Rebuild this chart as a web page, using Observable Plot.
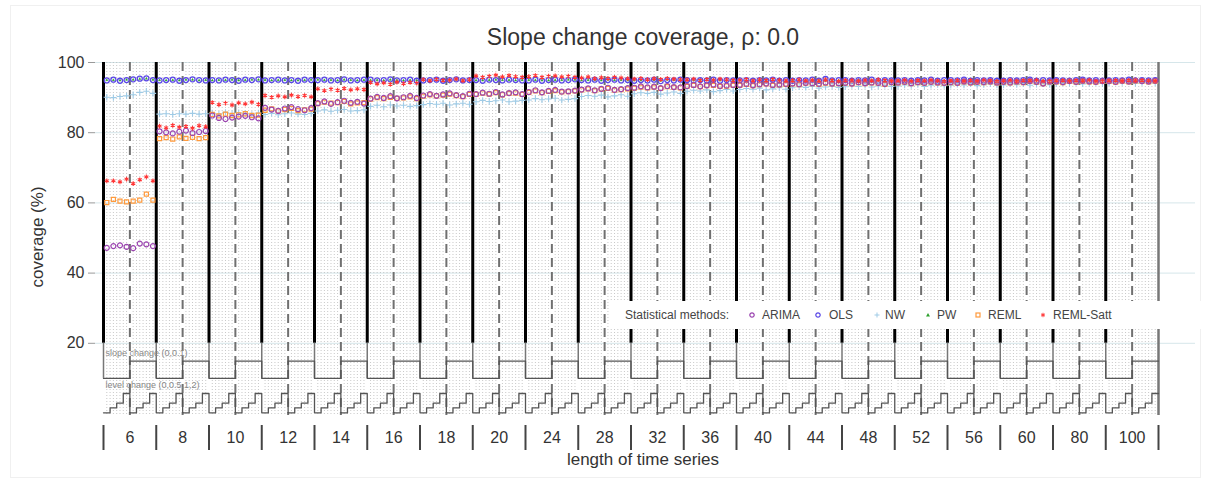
<!DOCTYPE html>
<html>
<head>
<meta charset="utf-8">
<script src="https://cdn.jsdelivr.net/npm/d3@7"></script>
<script src="https://cdn.jsdelivr.net/npm/@observablehq/plot@0.6"></script>
<style>
  html, body { margin: 0; padding: 0; background: #fff; }
  #wrap { position: relative; width: 1208px; height: 481px; font-family: "Liberation Sans", Arial, sans-serif; color: #333; overflow: hidden; }
  #border { position: absolute; left: 10px; top: 5px; width: 1189px; height: 471px; border: 1px solid #f0f0f0; }
  #chart { position: absolute; left: 0; top: 0; }
  #title { position: absolute; left: 643px; top: 24px; transform: translateX(-50%); font-size: 23px; color: #333; white-space: nowrap; }
  #xlab { position: absolute; left: 643px; top: 450px; transform: translateX(-50%); font-size: 17px; white-space: nowrap; }
  #ylab { position: absolute; left: 38px; top: 237px; transform: translate(-50%, -50%) rotate(-90deg); font-size: 17px; white-space: nowrap; }
  #legend { position: absolute; left: 610px; top: 301px; width: 592px; height: 28px; background: #fff; font-size: 12px; color: #444; }
  #legend span { position: absolute; top: 7px; white-space: nowrap; }
  #legend svg { position: absolute; top: 10px; }
</style>
</head>
<body>
<div id="wrap">
  <div id="border"></div>
  <div id="chart"></div>
  <div id="title"></div>
  <div id="ylab">coverage (%)</div>
  <div id="xlab">length of time series</div>
  <div id="legend"></div>
</div>
<script>
// ---------- data ----------
const lengths = [6, 8, 10, 12, 14, 16, 18, 20, 24, 28, 32, 36, 40, 44, 48, 52, 56, 60, 80, 100];
const slopeChanges = [0, 0.1];
const levelChanges = [0, 0.5, 1, 2];
const methods = ["ARIMA", "OLS", "NW", "PW", "REML", "REML-Satt"];
const yTicks = [20, 40, 60, 80, 100];

const arima = [
  47.2, 47.7, 47.9, 47.5, 47.1, 48.4, 48.2, 47.7,
  80.4, 80.1, 79.8, 80.3, 80.6, 79.9, 80.2, 80.5,
  84.9, 84.2, 83.9, 84.3, 84.6, 84.8, 84.4, 84.1,
  87.1, 86.6, 86.2, 86.9, 87.3, 86.7, 86.4, 87.0,
  88.4, 88.9, 88.2, 88.7, 89.1, 88.5, 88.8, 88.3,
  89.7, 90.2, 89.9, 90.4, 89.8, 90.1, 90.5, 89.9,
  90.6, 91.0, 90.5, 90.9, 91.2, 90.7, 90.4, 91.1,
  91.0, 91.4, 91.1, 91.6, 90.9, 91.3, 91.5, 91.0,
  91.6, 92.1, 91.5, 91.9, 92.2, 91.7, 91.8, 92.0,
  92.3, 92.6, 92.1, 92.5, 92.8, 92.2, 92.4, 92.7,
  92.8, 93.2, 92.9, 93.1, 92.7, 93.3, 93.0, 92.9,
  93.3, 93.6, 93.2, 93.5, 93.7, 93.3, 93.4, 93.6,
  93.6, 93.9, 93.5, 93.8, 94.0, 93.6, 93.7, 93.9,
  94.0, 93.8, 94.2, 94.1, 93.9, 94.3, 94.0, 94.1,
  94.2, 94.0, 94.4, 94.1, 94.3, 94.2, 93.9, 94.4,
  94.3, 94.5, 94.1, 94.4, 94.2, 94.5, 94.3, 94.2,
  94.4, 94.2, 94.6, 94.3, 94.5, 94.4, 94.6, 94.3,
  94.5, 94.3, 94.6, 94.4, 94.7, 94.5, 94.0, 94.6,
  94.6, 94.4, 94.7, 94.5, 94.8, 94.6, 94.5, 94.7,
  94.7, 94.5, 94.8, 94.6, 94.9, 94.7, 94.6, 94.8
];
const ols = [
  94.9, 95.1, 94.8, 95.0, 95.2, 95.4, 95.5, 95.0,
  94.9, 95.0, 95.1, 94.8, 95.0, 95.2, 95.0, 94.9,
  95.0, 94.9, 95.1, 95.0, 94.8, 95.1, 95.0, 95.2,
  94.9, 95.0, 95.1, 94.9, 95.0, 94.8, 95.1, 95.0,
  95.0, 95.1, 94.9, 95.0, 95.2, 94.9, 95.0, 95.1,
  95.1, 94.9, 95.0, 95.2, 94.9, 95.0, 95.1, 94.8,
  94.9, 95.0, 95.1, 94.8, 95.0, 95.2, 94.9, 95.0,
  95.0, 94.8, 95.1, 95.0, 94.9, 95.1, 95.0, 94.9,
  94.9, 95.1, 94.8, 95.0, 95.1, 94.9, 95.0, 95.2,
  95.0, 94.9, 95.1, 94.8, 95.0, 95.1, 94.9, 95.0,
  94.8, 95.0, 94.9, 95.1, 94.7, 95.0, 94.9, 95.1,
  95.0, 94.8, 95.0, 94.9, 95.1, 94.8, 95.0, 94.9,
  94.9, 95.0, 94.8, 95.0, 94.9, 95.1, 94.8, 95.0,
  94.8, 95.0, 94.9, 95.1, 94.8, 95.3, 94.9, 95.0,
  95.0, 94.8, 95.0, 94.9, 95.1, 94.8, 95.0, 94.9,
  94.9, 95.0, 94.8, 95.0, 94.9, 95.1, 94.8, 95.0,
  95.0, 94.9, 95.1, 94.8, 95.0, 94.9, 95.0, 94.8,
  94.8, 95.0, 94.9, 95.0, 95.1, 94.8, 95.0, 94.9,
  95.0, 94.9, 94.8, 95.0, 95.1, 94.9, 95.0, 94.8,
  94.9, 95.0, 94.9, 95.1, 94.8, 95.0, 94.9, 95.0
];
const nw = [
  90.1, 90.0, 90.3, 90.5, 90.8, 91.5, 91.8, 91.2,
  85.3, 85.4, 85.2, 85.4, 85.3, 85.5, 85.3, 85.4,
  85.6, 85.3, 85.8, 85.4, 85.7, 85.5, 85.2, 85.6,
  85.2, 85.5, 85.1, 85.4, 85.6, 85.3, 85.2, 85.5,
  86.2, 86.5, 86.1, 86.4, 86.6, 86.2, 86.3, 86.5,
  87.5, 87.8, 87.4, 87.9, 87.6, 87.8, 87.5, 87.7,
  88.0, 88.3, 88.1, 88.4, 87.9, 88.2, 88.4, 88.1,
  88.8, 89.2, 88.9, 89.1, 89.3, 88.8, 89.0, 89.2,
  89.3, 89.7, 89.4, 89.6, 89.8, 89.3, 89.5, 89.7,
  90.3, 90.6, 90.4, 90.7, 90.2, 90.5, 90.8, 90.4,
  91.1, 91.4, 91.2, 91.5, 91.0, 91.3, 91.6, 91.2,
  91.8, 92.1, 91.9, 92.2, 91.7, 92.0, 92.3, 91.9,
  92.3, 92.6, 92.4, 92.7, 92.2, 92.5, 92.8, 92.4,
  92.8, 93.1, 92.9, 93.2, 92.7, 93.0, 93.2, 92.9,
  93.1, 93.4, 93.2, 93.5, 93.0, 93.3, 93.5, 93.2,
  93.3, 93.6, 93.4, 93.7, 93.2, 93.5, 93.7, 93.4,
  93.5, 93.8, 93.6, 93.9, 93.4, 93.7, 93.9, 93.6,
  93.6, 93.9, 93.7, 94.0, 93.5, 93.8, 94.0, 93.7,
  94.0, 94.2, 94.1, 94.3, 93.9, 94.1, 94.3, 94.0,
  94.2, 94.4, 94.3, 94.5, 94.1, 94.3, 94.5, 94.2
];
const pw = [
  95.0, 95.0, 94.9, 95.1, 95.1, 95.3, 95.4, 95.1,
  95.0, 94.9, 95.0, 94.9, 95.1, 95.1, 94.9, 95.0,
  94.9, 95.0, 95.0, 95.1, 94.9, 95.0, 95.1, 95.1,
  95.0, 94.9, 95.0, 95.0, 94.9, 94.9, 95.0, 95.1,
  95.1, 95.0, 95.0, 94.9, 95.1, 95.0, 94.9, 95.0,
  95.0, 95.0, 94.9, 95.1, 95.0, 94.9, 95.0, 94.9,
  95.0, 94.9, 95.0, 94.9, 95.1, 95.1, 95.0, 94.9,
  94.9, 94.9, 95.0, 95.1, 95.0, 95.0, 94.9, 95.0,
  95.0, 95.0, 94.9, 94.9, 95.0, 95.0, 95.1, 95.1,
  94.9, 95.0, 95.0, 94.9, 95.1, 95.0, 95.0, 94.9,
  94.9, 94.9, 95.0, 95.0, 94.8, 95.1, 95.0, 95.0,
  94.9, 94.9, 95.1, 95.0, 95.0, 94.9, 94.9, 95.0,
  95.0, 94.9, 94.9, 95.1, 95.0, 95.0, 94.9, 94.9,
  94.9, 94.9, 95.0, 95.0, 94.9, 95.2, 95.0, 94.9,
  94.9, 94.9, 95.1, 95.0, 95.0, 94.9, 94.9, 95.0,
  95.0, 94.9, 94.9, 95.1, 95.0, 95.0, 94.9, 94.9,
  94.9, 95.0, 95.0, 94.9, 94.9, 95.0, 94.9, 94.9,
  94.9, 94.9, 95.0, 94.9, 95.0, 94.9, 94.9, 95.0,
  94.9, 95.0, 94.9, 94.9, 95.0, 95.0, 94.9, 94.9,
  95.0, 94.9, 95.0, 95.0, 94.9, 94.9, 95.0, 94.9
];
const reml = [
  60.1, 61.0, 60.5, 60.3, 60.5, 60.8, 62.5, 60.8,
  78.3, 78.6, 78.2, 78.8, 78.4, 78.7, 78.3, 78.6,
  85.2, 84.8, 85.3, 84.9, 85.1, 85.4, 84.9, 85.0,
  86.4, 86.8, 86.2, 86.6, 86.9, 86.3, 86.5, 86.7,
  88.3, 88.7, 88.4, 88.6, 88.9, 88.2, 88.5, 88.6,
  89.6, 90.0, 89.7, 90.1, 89.8, 89.9, 90.2, 89.7,
  90.4, 90.8, 90.5, 90.7, 91.0, 90.6, 90.3, 90.9,
  90.9, 91.3, 91.0, 91.4, 90.8, 91.2, 91.3, 90.9,
  91.5, 91.9, 91.4, 91.8, 92.0, 91.6, 91.7, 91.9,
  92.2, 92.5, 92.0, 92.4, 92.6, 92.1, 92.3, 92.5,
  92.7, 93.0, 92.8, 93.0, 92.6, 93.1, 92.9, 92.8,
  93.2, 93.5, 93.1, 93.4, 93.5, 93.2, 93.3, 93.5,
  93.5, 93.8, 93.4, 93.7, 93.9, 93.5, 93.6, 93.8,
  93.9, 93.7, 94.1, 94.0, 93.8, 94.1, 93.9, 94.0,
  94.1, 93.9, 94.3, 94.0, 94.2, 94.1, 93.8, 94.3,
  94.2, 94.4, 94.0, 94.3, 94.1, 94.4, 94.2, 94.1,
  94.3, 94.1, 94.5, 94.2, 94.4, 94.3, 94.5, 94.2,
  94.4, 94.2, 94.5, 94.3, 94.6, 94.4, 94.0, 94.5,
  94.5, 94.3, 94.6, 94.4, 94.7, 94.5, 94.4, 94.6,
  94.6, 94.4, 94.7, 94.5, 94.8, 94.6, 94.5, 94.7
];
const remlSatt = [
  66.3, 66.3, 66.0, 66.8, 65.5, 66.6, 67.4, 66.3,
  81.9, 81.4, 82.1, 81.6, 81.8, 81.3, 82.0, 81.7,
  88.6, 88.0, 88.4, 87.9, 88.5, 88.2, 88.7, 88.1,
  90.6, 90.1, 90.5, 90.2, 90.7, 90.3, 90.6, 90.2,
  92.5, 92.0, 92.4, 92.1, 92.6, 92.2, 92.5, 92.3,
  94.3, 93.9, 94.2, 93.8, 94.4, 94.0, 94.3, 94.1,
  95.1, 94.8, 95.2, 94.9, 95.0, 95.3, 94.8, 95.1,
  96.2, 95.8, 96.1, 96.4, 95.9, 96.3, 96.0, 95.8,
  96.0, 96.3, 95.8, 96.1, 96.2, 95.9, 96.1, 95.8,
  95.6, 95.9, 95.4, 95.7, 95.5, 95.8, 95.6, 95.4,
  95.3, 95.5, 95.1, 95.4, 95.2, 95.5, 95.3, 95.1,
  95.1, 95.3, 94.9, 95.2, 95.0, 95.3, 95.1, 94.9,
  95.0, 95.2, 94.8, 95.1, 94.9, 95.2, 95.0, 94.8,
  94.9, 95.1, 94.8, 95.0, 94.8, 95.1, 94.9, 94.7,
  94.9, 95.0, 94.7, 95.0, 94.8, 95.1, 94.9, 94.7,
  94.8, 95.0, 94.7, 94.9, 94.8, 95.0, 94.8, 94.6,
  94.8, 94.9, 94.7, 94.9, 94.7, 95.0, 94.8, 94.6,
  94.8, 95.0, 94.6, 94.9, 94.8, 95.0, 94.7, 94.6,
  94.8, 94.9, 94.7, 94.9, 94.8, 95.0, 94.7, 94.6,
  94.8, 94.9, 94.7, 94.9, 94.8, 94.9, 94.8, 94.7
];

// ---------- styles ----------
const seriesValues = {"ARIMA": arima, "OLS": ols, "NW": nw, "PW": pw, "REML": reml, "REML-Satt": remlSatt};
const styles = {
  "ARIMA":     {color: "#9b45b0", symbol: "circle",   filled: false, r: 2.5, sw: 1.2},
  "OLS":       {color: "#5a48e6", symbol: "circle",   filled: false, r: 2.5, sw: 1.3},
  "NW":        {color: "#9fcbe6", symbol: "plus",     filled: false, r: 2.2, sw: 1.1},
  "PW":        {color: "#2ca02c", symbol: "triangle", filled: true,  r: 0.8, sw: 0.5},
  "REML":      {color: "#ff9a3c", symbol: "square",   filled: false, r: 2.3, sw: 1.2},
  "REML-Satt": {color: "#ff3535", symbol: "asterisk", filled: false, r: 2.2, sw: 1.1}
};
const drawOrder = ["PW", "OLS", "NW", "REML", "ARIMA", "REML-Satt"];

const nLevel = levelChanges.length, nSlope = slopeChanges.length;
const perBlock = nLevel * nSlope;
const nPoints = lengths.length * perBlock;

// long table of points
const rows = [];
for (const m of methods) {
  seriesValues[m].forEach((v, i) => rows.push({method: m, x: i + 0.5, y: v}));
}

// step lines for design parameters (drawn in lower band)
const slopeBase = 10, slopeScale = 49;
const levelBase = 0.2, levelScale = 2.75;
const slopeSteps = [], levelSteps = [];
lengths.forEach((n, b) => {
  slopeChanges.forEach((s, si) => {
    levelChanges.forEach((l, li) => {
      const i = b * perBlock + si * nLevel + li;
      slopeSteps.push({x: i, y: slopeBase + s * slopeScale});
      levelSteps.push({x: i, y: levelBase + l * levelScale});
    });
  });
});
slopeSteps.push({x: nPoints, y: slopeSteps[slopeSteps.length - 1].y});
levelSteps.push({x: nPoints, y: levelSteps[levelSteps.length - 1].y});

const blockStarts = d3.range(0, nPoints, perBlock);
const boundaries = d3.range(0, nPoints + 1, perBlock);
const halfBlocks = blockStarts.map(b => b + perBlock / 2);
const blockCenters = blockStarts.map(b => b + perBlock / 2);
const dotted = d3.range(0, nPoints * 2 + 1).map(k => k / 2).filter(x => x % (perBlock / 2) !== 0);

const marks = [
  Plot.gridY(yTicks, {stroke: "#d6e6ea", strokeOpacity: 1, strokeWidth: 1}),
  Plot.ruleX(dotted, {stroke: "#b0b0b0", strokeWidth: 0.7, strokeDasharray: "1,2"}),
  Plot.ruleX(halfBlocks, {stroke: "#707070", strokeWidth: 2, strokeDasharray: "9,5"}),
  Plot.ruleX(blockStarts, {y1: 20, y2: 100, stroke: "#000", strokeWidth: 3}),
  Plot.ruleX(blockStarts, {y1: slopeBase, y2: 20, stroke: "#777", strokeWidth: 1.5}),
  Plot.ruleX([nPoints], {stroke: "#777", strokeWidth: 2.5}),
  Plot.line(slopeSteps, {x: "x", y: "y", curve: "step-after", stroke: "#555", strokeWidth: 1.3}),
  Plot.line(levelSteps, {x: "x", y: "y", curve: "step-after", stroke: "#555", strokeWidth: 1.3}),
  Plot.text([`slope change (${slopeChanges.join(",")})`], {x: 0.3, y: slopeBase + 0.1 * slopeScale + 2.4, text: d => d, textAnchor: "start", fontSize: 9, fill: "#888"}),
  Plot.text([`level change (${levelChanges.join(",")})`], {x: 0.3, y: levelBase + 2 * levelScale + 2.3, text: d => d, textAnchor: "start", fontSize: 9, fill: "#888"}),
  Plot.axisY({ticks: yTicks, tickSize: 7, tickPadding: 4, fontSize: 16, stroke: "#999", fill: "#333", label: null}),
  Plot.axisX({ticks: boundaries, tickSize: 25, tickFormat: () => "", dy: 10, stroke: "#444", strokeWidth: 2, label: null}),
  Plot.axisX({ticks: blockCenters, tickSize: 0, tickPadding: 16, fontSize: 16, fill: "#333", tickFormat: (d) => String(lengths[Math.floor(d / perBlock)]), label: null})
];
for (const m of drawOrder) {
  const s = styles[m];
  marks.push(Plot.dot(rows.filter(d => d.method === m), {
    x: "x", y: "y", symbol: () => s.symbol, r: s.r,
    stroke: s.color, strokeWidth: s.sw, fill: s.filled ? s.color : "none"
  }));
}

const chart = Plot.plot({
  width: 1208, height: 481,
  marginLeft: 95, marginRight: 13, marginTop: 62, marginBottom: 66,
  x: {domain: [0, nPoints], range: [103, 1158], axis: null},
  y: {domain: [0, 100], range: [413, 62], axis: null},
  symbol: {type: "identity"},
  style: {background: "transparent", fontFamily: "'Liberation Sans', Arial, sans-serif", color: "#333"},
  marks
});
document.getElementById("chart").appendChild(chart);

document.getElementById("title").textContent = "Slope change coverage, ρ: 0.0";

// legend
const legend = document.getElementById("legend");
const legendItems = [
  {m: "ARIMA", sx: 142, tx: 152},
  {m: "OLS", sx: 208, tx: 219},
  {m: "NW", sx: 267, tx: 275},
  {m: "PW", sx: 318, tx: 327},
  {m: "REML", sx: 368, tx: 378},
  {m: "REML-Satt", sx: 433, tx: 443}
];
let html = `<span style="left:15px">Statistical methods:</span>`;
for (const it of legendItems) {
  const s = styles[it.m];
  let shape = "";
  if (s.symbol === "circle") shape = `<circle cx="4" cy="4" r="2.2" fill="none" stroke="${s.color}" stroke-width="1.2"/>`;
  else if (s.symbol === "plus") shape = `<path d="M1.5,4H6.5M4,1.5V6.5" stroke="${s.color}" stroke-width="1"/>`;
  else if (s.symbol === "triangle") shape = `<path d="M4,2L6,5.5H2Z" fill="${s.color}"/>`;
  else if (s.symbol === "square") shape = `<rect x="2" y="2" width="4" height="4" fill="none" stroke="${s.color}" stroke-width="1.2"/>`;
  else shape = `<path d="M4,1.8V6.2M2.1,2.9L5.9,5.1M2.1,5.1L5.9,2.9" stroke="${s.color}" stroke-width="1"/>`;
  html += `<svg width="8" height="8" style="left:${it.sx - 4}px">${shape}</svg><span style="left:${it.tx}px">${it.m}</span>`;
}
legend.innerHTML = html;
</script>
</body>
</html>
